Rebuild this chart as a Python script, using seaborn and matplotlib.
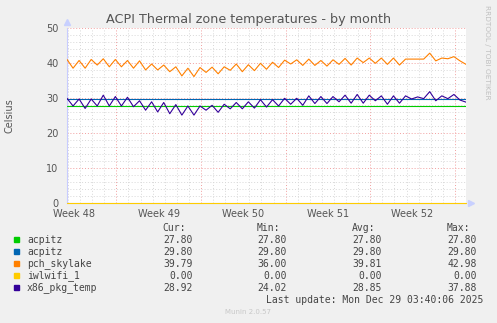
import numpy as np
import pandas as pd
import matplotlib
matplotlib.use("Agg")
import matplotlib.pyplot as plt
import matplotlib.transforms as mtransforms
import seaborn as sns

# ---------------- data ----------------
title = "ACPI Thermal zone temperatures - by month"
y_label = "Celsius"
week_labels = ["Week 48", "Week 49", "Week 50", "Week 51", "Week 52"]
week_starts = [4.08, 11.08, 18.08, 25.08, 32.08]      # days from left edge
y_ticks = [0, 10, 20, 30, 40, 50]

series_names = ["acpitz", "acpitz", "pch_skylake", "iwlwifi_1", "x86_pkg_temp"]
series_colors = ["#00CC00", "#0066B3", "#FF8000", "#FFCC00", "#330099"]

# samples every half day (peaks / troughs of the daily cycle)
pch_skylake = [
    41.1, 38.6, 40.8, 38.6, 41.1, 39.5, 41.3, 39.0, 41.1, 39.0,
    40.8, 38.6, 40.7, 38.1, 39.8, 38.1, 39.5, 37.6, 39.0, 36.4,
    38.6, 36.2, 38.8, 37.4, 38.9, 37.0, 39.0, 38.0, 39.8, 37.6,
    39.6, 37.9, 40.0, 38.3, 40.3, 38.8, 40.9, 39.8, 41.0, 39.4,
    41.2, 39.4, 40.8, 39.2, 41.0, 39.7, 41.4, 39.5, 41.5, 40.2,
    41.5, 40.0, 41.5, 39.7, 41.5, 39.5, 41.2, 41.2, 41.2, 41.2,
    42.9, 40.7, 41.5, 41.3, 41.9, 40.7, 39.7,
]
x86_pkg_temp = [
    30.0, 27.8, 29.8, 27.1, 29.8, 27.8, 30.9, 27.8, 30.5, 27.8,
    30.3, 27.6, 29.3, 26.6, 29.0, 26.1, 28.8, 25.6, 28.2, 25.2,
    27.8, 25.2, 27.8, 26.6, 28.0, 26.0, 28.3, 27.0, 28.8, 27.0,
    29.0, 27.2, 29.6, 27.5, 29.6, 27.8, 30.0, 28.3, 30.0, 28.0,
    30.7, 28.5, 30.5, 28.5, 30.5, 29.0, 30.9, 28.6, 31.1, 28.6,
    30.9, 29.3, 30.7, 28.3, 30.7, 28.6, 30.7, 29.8, 30.4, 29.9,
    31.9, 29.3, 30.7, 29.9, 31.1, 29.5, 28.9,
]
acpitz_1 = [27.8] * len(pch_skylake)
acpitz_2 = [29.8] * len(pch_skylake)
iwlwifi_1 = [0.0] * len(pch_skylake)

cur_vals = [27.80, 29.80, 39.79, 0.00, 28.92]
min_vals = [27.80, 29.80, 36.00, 0.00, 24.02]
avg_vals = [27.80, 29.80, 39.81, 0.00, 28.85]
max_vals = [27.80, 29.80, 42.98, 0.00, 37.88]
last_update = "Last update: Mon Dec 29 03:40:06 2025"
footer = "Munin 2.0.57"
side_text = "RRDTOOL / TOBI OETIKER"

# ---------------- figure ----------------
sns.set_theme(style="white")
plt.rcParams["font.family"] = ["DejaVu Sans"]

W, H = 497, 323
fig = plt.figure(figsize=(W / 100, H / 100), dpi=100, facecolor="#F0F0F0")
ax = fig.add_axes([67 / W, 1 - 203.3 / H, 399 / W, 175 / H])
ax.set_facecolor("white")

days = np.arange(len(pch_skylake)) * 0.5
series_vals = [acpitz_1, acpitz_2, pch_skylake, iwlwifi_1, x86_pkg_temp]
draw_order = [3, 0, 1, 2, 4]

x_max = 33.0
ax.set_xlim(0, x_max)
ax.set_ylim(0, 50)

# grid
ax.set_yticks(y_ticks)
ax.set_yticks(np.arange(0, 51, 2), minor=True)
ax.set_xticks(week_starts)
minor_days = [week_starts[0] - 4 + k for k in range(0, 34)]
ax.set_xticks([d for d in minor_days if 0 <= d <= x_max], minor=True)
ax.grid(which="minor", color="#D8D8D8", linestyle=(0, (1, 2)), linewidth=0.7)
ax.grid(which="major", color="#F2A0A0", linestyle=(0, (1, 2)), linewidth=0.7)
ax.set_axisbelow(True)
ax.tick_params(axis="x", which="major", length=2, color="#F2A0A0", labelbottom=False)
ax.tick_params(axis="x", which="minor", length=2, color="#D8D8D8")
ax.tick_params(axis="y", which="major", length=2, color="#F2A0A0", labelsize=7,
               labelcolor="#555555", pad=4)
ax.tick_params(axis="y", which="minor", length=0)

for i in draw_order:
    df = pd.DataFrame({"day": days, "value": series_vals[i]})
    sns.lineplot(data=df, x="day", y="value", ax=ax, color=series_colors[i],
                 linewidth=0.8, clip_on=(i != 3), zorder=3 + i)

ax.set_xlabel("")
ax.set_ylabel(y_label, fontsize=7, color="#555555")
ax.yaxis.set_label_coords((15 - 67) / 399, 0.5)

for s in ["top", "right"]:
    ax.spines[s].set_visible(False)
ax.spines["left"].set_color("#C8CCFF")
ax.spines["bottom"].set_color("#C8CCFF")
ax.spines["left"].set_linewidth(0.8)
ax.spines["bottom"].set_linewidth(0.8)

# axis arrows
ax.plot([0], [1.035], marker="^", color="#C8D0FF", markersize=4,
        transform=ax.transAxes, clip_on=False)
ax.plot([1.013], [0], marker=">", color="#C8D0FF", markersize=4,
        transform=ax.transAxes, clip_on=False)

# week labels, centred between week lines
trans = mtransforms.blended_transform_factory(ax.transData, fig.transFigure)
for lab, ws in zip(week_labels, week_starts):
    ax.text(ws - 3.5, 1 - 214 / H, lab, transform=trans, ha="center", va="center",
            fontsize=7, color="#555555", clip_on=False)

fig.text(0.5, 1 - 19 / H, title, ha="center", va="center", fontsize=9.2, color="#555555")
fig.text(487 / W, 1 - 5 / H, side_text, rotation=-90, ha="center", va="top",
         fontsize=5.3, color="#C0C0C0")

# legend table
mono = "DejaVu Sans Mono"
txt_col = "#444444"
col_right = [193, 287, 382, 477]
for hdr, xr in zip(["Cur:", "Min:", "Avg:", "Max:"], col_right):
    fig.text((xr - 7) / W, 1 - 228.3 / H, hdr, ha="right", va="center",
             fontsize=7, family=mono, color=txt_col)
row_y = [239.7, 251.7, 263.7, 275.7, 287.7]
for i in range(5):
    yy = 1 - row_y[i] / H
    fig.patches.append(plt.Rectangle((14 / W, yy - 2.6 / H), 5.3 / W, 5.3 / H,
                                     transform=fig.transFigure, color=series_colors[i]))
    fig.text(27 / W, yy, series_names[i], ha="left", va="center", fontsize=7,
             family=mono, color=txt_col)
    for v, xr in zip([cur_vals[i], min_vals[i], avg_vals[i], max_vals[i]], col_right):
        fig.text(xr / W, yy, f"{v:.2f}", ha="right", va="center", fontsize=7,
                 family=mono, color=txt_col)
fig.text(483 / W, 1 - 299.7 / H, last_update, ha="right", va="center", fontsize=7,
         family=mono, color=txt_col)
fig.text(248 / W, 1 - 312 / H, footer, ha="center", va="center", fontsize=5,
         color="#C8C8C8")

fig.savefig("out.png", dpi=100, facecolor=fig.get_facecolor())
